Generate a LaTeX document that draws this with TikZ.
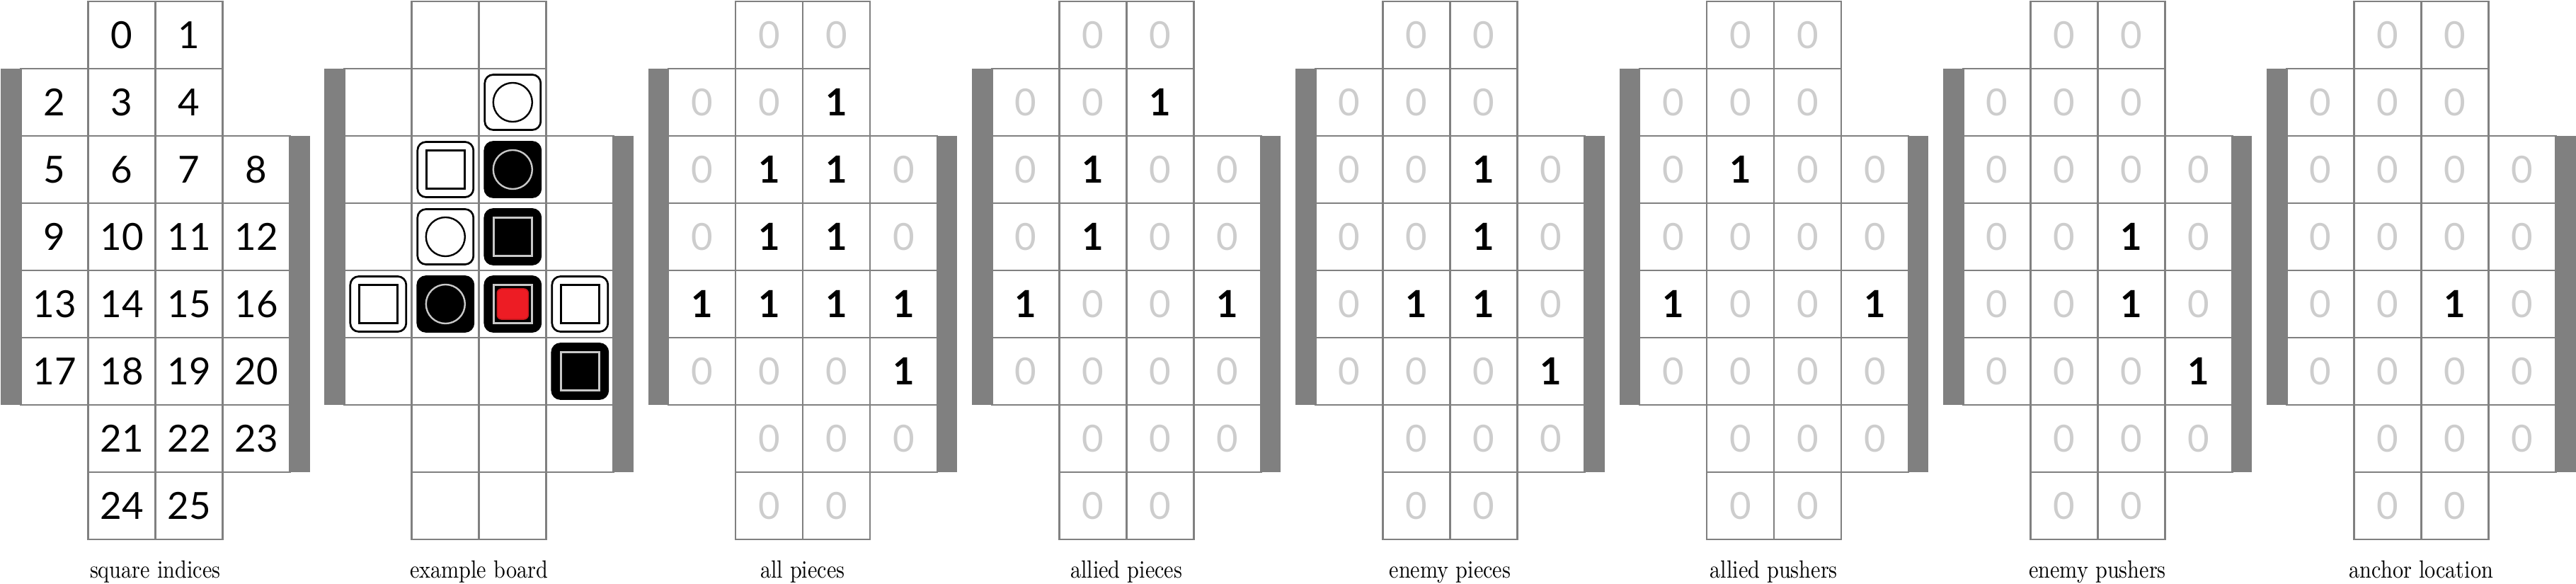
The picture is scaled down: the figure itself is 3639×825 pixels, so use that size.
\documentclass[tikz,border=0pt]{standalone}
\usepackage{fontspec}
\usepackage{graphicx}
\newfontfamily\digitfont{Lato}
\definecolor{wallgray}{HTML}{808080}
\definecolor{zerogray}{HTML}{CDCDCD}
\definecolor{ringgray}{HTML}{C8C8C8}
\definecolor{pieceRed}{HTML}{ED1C24}
\definecolor{pieceRedDark}{HTML}{C4161C}
\makeatletter
\newcommand\bitval[2]{\edef\bit@tmp{\noexpand\in@{,#2,}{,#1,}}\bit@tmp
  \ifin@{\bfseries 1}\else\textcolor{zerogray}{0}\fi}
\makeatother
\def\celllist{0/1/0,1/2/0,2/0/1,3/1/1,4/2/1,5/0/2,6/1/2,7/2/2,8/3/2,9/0/3,10/1/3,11/2/3,12/3/3,13/0/4,14/1/4,15/2/4,16/3/4,17/0/5,18/1/5,19/2/5,20/3/5,21/1/6,22/2/6,23/3/6,24/1/7,25/2/7}
\tikzset{
  cellbox/.style={draw=wallgray, fill=white, line width=0.027cm,
    minimum width=0.95cm, minimum height=0.95cm, inner sep=0pt,
    font=\digitfont\fontsize{15}{15}\selectfont},
  wall/.style={fill=wallgray, draw=none},
  caption/.style={font=\fontsize{10}{12}\selectfont, anchor=base, inner sep=0pt},
  piecebase/.style={rounded corners=0.12cm, line width=0.027cm,
    minimum width=0.79cm, minimum height=0.78cm, inner sep=0pt},
  whitepiece/.style={piecebase, draw=black, fill=white},
  blackpiece/.style={piecebase, draw=black, fill=black},
  ringbase/.style={circle, minimum size=0.55cm, inner sep=0pt, line width=0.024cm},
  wring/.style={ringbase, draw=black},
  bring/.style={ringbase, draw=ringgray},
  sqbase/.style={rectangle, minimum size=0.545cm, inner sep=0pt, line width=0.03cm},
  wsq/.style={sqbase, draw=black},
  bsq/.style={sqbase, draw=ringgray},
  anchorbox/.style={rectangle, rounded corners=0.06cm, fill=pieceRed, draw=pieceRedDark,
    line width=0.015cm, minimum width=0.44cm, minimum height=0.43cm, inner sep=0pt},
}
\newcommand\boardbase[2]{%
  \pgfmathsetmacro\xo{1+457.3*#1}
  \fill[wall] (\xo,97) rectangle (\xo+28.5,572);
  \fill[wall] (\xo+408.5,192) rectangle (\xo+436.5,667);
  \node[caption] (lab#1) at (\xo+218.25,817) {\scalebox{0.86}[1]{#2}};
}
\newcommand\indexboard{%
  \boardbase{0}{square indices}
  \foreach \i/\c/\r in \celllist {\node[cellbox] (b0c\i) at (\xo+76+95*\c,49.5+95*\r) {\i};}
}
\newcommand\emptyboard[2]{%
  \boardbase{#1}{#2}
  \foreach \i/\c/\r in \celllist {\node[cellbox] (b#1c\i) at (\xo+76+95*\c,49.5+95*\r) {};}
}
\newcommand\bitboard[3]{%
  \boardbase{#1}{#3}
  \foreach \i/\c/\r in \celllist {\node[cellbox] (b#1c\i) at (\xo+76+95*\c,49.5+95*\r) {\bitval{#2}{\i}};}
}
\begin{document}
\begin{tikzpicture}[x=0.01cm,y=-0.01cm]
\useasboundingbox (0,0) rectangle (3639,825);
\indexboard
\emptyboard{1}{example board}
% allied pieces (white)
\foreach \i in {4,10} {\node[whitepiece] (pc\i) at (b1c\i) {}; \node[wring] (sy\i) at (pc\i) {};}
\foreach \i in {6,13,16} {\node[whitepiece] (pc\i) at (b1c\i) {}; \node[wsq] (sy\i) at (pc\i) {};}
% enemy pieces (black)
\foreach \i in {7,14} {\node[blackpiece] (pc\i) at (b1c\i) {}; \node[bring] (sy\i) at (pc\i) {};}
\foreach \i in {11,15,20} {\node[blackpiece] (pc\i) at (b1c\i) {}; \node[bsq] (sy\i) at (pc\i) {};}
\node[anchorbox] (anc) at (pc15) {};
\bitboard{2}{4,6,7,10,11,13,14,15,16,20}{all pieces}
\bitboard{3}{4,6,10,13,16}{allied pieces}
\bitboard{4}{7,11,14,15,20}{enemy pieces}
\bitboard{5}{6,13,16}{allied pushers}
\bitboard{6}{11,15,20}{enemy pushers}
\bitboard{7}{15}{anchor location}
\end{tikzpicture}
\end{document}
